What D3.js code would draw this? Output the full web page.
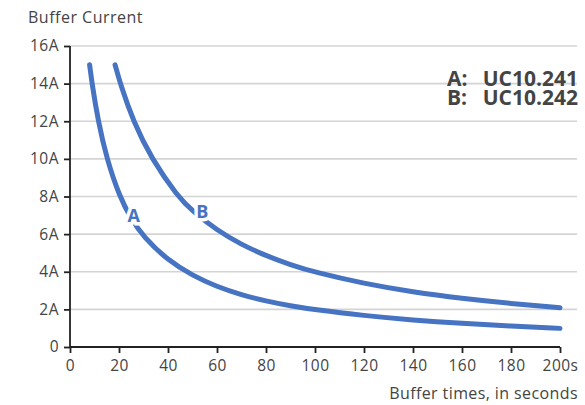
<!DOCTYPE html>
<html>
<head>
<meta charset="utf-8">
<script src="https://cdn.jsdelivr.net/npm/d3@7"></script>
<style>
  body { margin: 0; background: #fff; }
  svg text { font-family: "Open Sans", sans-serif; fill: #444; }
</style>
</head>
<body>
<svg id="chart" width="585" height="405"></svg>
<script>
// buffer time (s) vs current (A)
const seriesA = [
  [8, 15], [9, 14], [11.5, 12], [15, 10], [20.2, 8], [25, 6.8], [30, 5.85],
  [40, 4.6], [50, 3.8], [60, 3.2], [70, 2.77], [80, 2.44], [90, 2.19], [100, 1.98],
  [120, 1.67], [140, 1.43], [160, 1.25], [180, 1.11], [200, 0.99]
]
const seriesB = [
  [18.4, 15], [20.5, 14], [25.8, 12], [33.3, 10], [44, 8], [50, 7.22], [60, 6.2],
  [70, 5.44], [80, 4.85], [90, 4.37], [100, 3.97], [120, 3.37],
  [140, 2.92], [160, 2.58], [180, 2.31], [200, 2.09]
]
const xTicks = [0, 20, 40, 60, 80, 100, 120, 140, 160, 180, 200]
const yTicks = [0, 2, 4, 6, 8, 10, 12, 14, 16]
const curveLabels = [
  { name: 'A', t: 26, i: 7.0 },
  { name: 'B', t: 54, i: 7.2 }
]
const legendKeys = ['A:', 'B:']
const legendModels = ['UC10.241', 'UC10.242']

const margin = { left: 70, top: 46 }
const width = 490, height = 301

const svg = d3.select('#chart')
const g = svg.append('g').attr('transform', `translate(${margin.left},${margin.top})`)

const x = d3.scaleLinear().domain([0, 200]).range([0, width])
const y = d3.scaleLinear().domain([0, 16]).range([height, 0])

// gridlines
g.selectAll('.grid')
  .data(yTicks.filter(d => d > 0))
  .enter().append('line')
    .attr('x1', 0).attr('x2', 507)
    .attr('y1', d => y(d)).attr('y2', d => y(d))
    .attr('stroke', '#d4d4d4')
    .attr('stroke-width', 1.6)

const yAxis = g.append('g')
  .call(d3.axisLeft(y).tickValues(yTicks).tickSize(6).tickPadding(5)
    .tickFormat(d => d === 0 ? '0' : d + 'A'))
const xAxis = g.append('g')
  .attr('transform', `translate(0,${height})`)
  .call(d3.axisBottom(x).tickValues(xTicks).tickSize(6).tickPadding(7)
    .tickFormat(d => d === 200 ? '200s' : d))

;[yAxis, xAxis].forEach(a => {
  a.select('.domain').attr('stroke', '#222').attr('stroke-width', 1.8)
  a.selectAll('.tick line').attr('stroke', '#222').attr('stroke-width', 1.8)
  a.selectAll('.tick text')
    .style('font-family', '"Open Sans", sans-serif')
    .style('font-size', '15.5px')
    .style('letter-spacing', '0.5px')
    .attr('fill', '#444')
})
yAxis.select('.domain').attr('d', `M0,0V${height}`)
xAxis.select('.domain').attr('d', `M0,0H${width}`)

const line = d3.line()
  .x(d => x(d[0]))
  .y(d => y(d[1]))
  .curve(d3.curveBasis)

const blue = '#4673c2'
g.selectAll('.curve')
  .data([seriesA, seriesB])
  .enter().append('path')
    .attr('d', line)
    .attr('fill', 'none')
    .attr('stroke', blue)
    .attr('stroke-width', 5)
    .attr('stroke-linecap', 'round')

g.selectAll('.clabel')
  .data(curveLabels)
  .enter().append('text')
    .attr('x', d => x(d.t))
    .attr('y', d => y(d.i))
    .attr('dy', '0.36em')
    .attr('text-anchor', 'middle')
    .style('font-size', '18px')
    .style('font-weight', 'bold')
    .style('fill', blue)
    .attr('stroke', '#fff')
    .attr('stroke-width', 7)
    .attr('paint-order', 'stroke')
    .text(d => d.name)

const legend = svg.selectAll('.legend')
  .data(legendKeys)
  .enter().append('g')
    .attr('transform', (d, i) => `translate(0,${85.5 + i * 19})`)
    .style('font-size', '21px')
    .style('font-weight', 'bold')
legend.append('text')
  .attr('x', 447)
  .text(d => d)
legend.append('text')
  .attr('x', 578)
  .attr('text-anchor', 'end')
  .text((d, i) => legendModels[i])

svg.append('text')
  .attr('x', 28).attr('y', 23)
  .style('font-size', '16px')
  .style('letter-spacing', '0.5px')
  .text('Buffer Current')

svg.append('text')
  .attr('x', 578).attr('y', 399)
  .attr('text-anchor', 'end')
  .style('font-size', '16px')
  .style('letter-spacing', '0.4px')
  .text('Buffer times, in seconds')
</script>
</body>
</html>
